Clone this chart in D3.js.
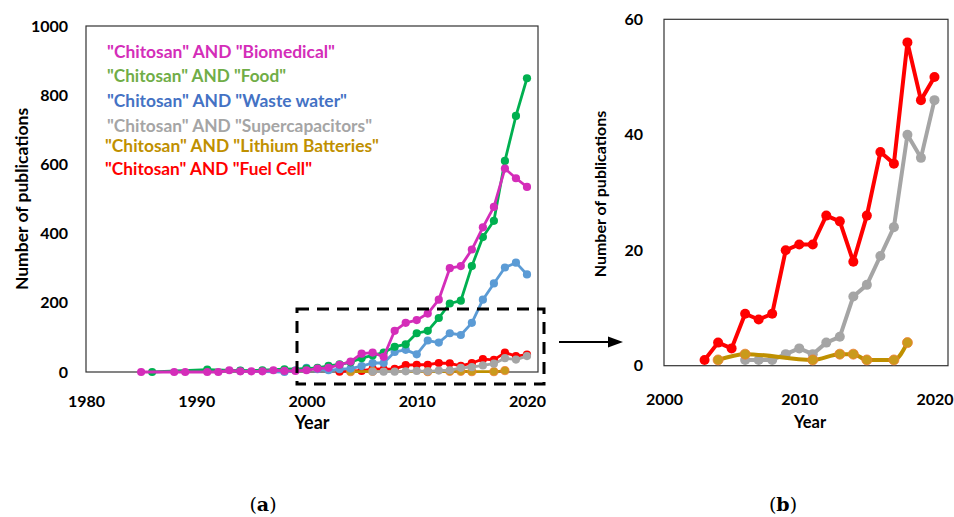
<!DOCTYPE html>
<html>
<head>
<meta charset="utf-8">
<script src="https://d3js.org/d3.v7.min.js"></script>
<style>
  body { margin: 0; background: #ffffff; }
  svg { display: block; }
  .tick text { font-family: Lato, "Open Sans", sans-serif; font-weight: bold; fill: #000; }
  .label { font-family: Lato, "Open Sans", sans-serif; font-weight: bold; fill: #000; }
  .legend { font-family: Lato, "Open Sans", sans-serif; font-weight: bold; }
</style>
</head>
<body>
<script>
// chitosan publications per year

// series names (legend order)
var seriesNames = ['"Chitosan" AND "Biomedical"', '"Chitosan" AND "Food"', '"Chitosan" AND "Waste water"',
                   '"Chitosan" AND "Supercapacitors"', '"Chitosan" AND "Lithium Batteries"', '"Chitosan" AND "Fuel Cell"'];

var bioYears = [1985, 1988, 1989, 1991, 1992, 1993, 1994, 1995, 1996, 1997, 1998, 1999,
                2000, 2001, 2002, 2003, 2004, 2005, 2006, 2007, 2008, 2009, 2010,
                2011, 2012, 2013, 2014, 2015, 2016, 2017, 2018, 2019, 2020];
var bioValues = [0, 0, 0, 0, 0, 5, 2, 2, 2, 5, 3, 3,
                 5, 10, 12, 21, 30, 53, 56, 44, 119, 142, 150,
                 169, 209, 300, 306, 354, 418, 477, 588, 560, 535];

var foodYears = [1986, 1991, 1994, 1996, 1998, 2000, 2001, 2002, 2003, 2004, 2005, 2006, 2007,
                 2008, 2009, 2010, 2011, 2012, 2013, 2014, 2015, 2016, 2017, 2018, 2019, 2020];
var foodValues = [0, 7, 4, 5, 8, 10, 12, 18, 22, 28, 40, 48, 56,
                  73, 80, 112, 119, 156, 198, 206, 306, 390, 437, 610, 740, 849];

var waterYears = [1994, 1998, 1999, 2000, 2001, 2002, 2003, 2004, 2005, 2006, 2007, 2008,
                  2009, 2010, 2011, 2012, 2013, 2014, 2015, 2016, 2017, 2018, 2019, 2020];
var waterValues = [3, 0, 5, 12, 8, 5, 8, 10, 17, 26, 26, 58,
                   64, 51, 91, 85, 112, 107, 142, 209, 256, 302, 316, 282];

var superYears = [2006, 2007, 2008, 2009, 2010, 2011, 2012, 2013, 2014, 2015, 2016, 2017, 2018, 2019, 2020];
var superValues = [1, 1, 1, 2, 3, 2, 4, 5, 12, 14, 19, 24, 40, 36, 46];

var lithiumYears = [2004, 2006, 2011, 2013, 2014, 2015, 2017, 2018];
var lithiumValues = [1, 2, 1, 2, 2, 1, 1, 4];

var fuelYears = [2003, 2004, 2005, 2006, 2007, 2008, 2009, 2010, 2011, 2012,
                 2013, 2014, 2015, 2016, 2017, 2018, 2019, 2020];
var fuelValues = [1, 4, 3, 9, 8, 9, 20, 21, 21, 26, 25, 18, 26, 37, 35, 56, 46, 50];

// tick labels
var leftXTicks = [1980, 1990, 2000, 2010, 2020];
var leftYTicks = [0, 200, 400, 600, 800, 1000];
var rightXTicks = [2000, 2010, 2020];
var rightYTicks = [0, 20, 40, 60];

function zip(years, values) {
  return years.map(function(y, i) { return {year: y, value: values[i]}; });
}

// colours: line, marker, legend text
var styles = {
  bio:     {line: "#d42db9", marker: "#d42db9", text: "#d42db9"},
  food:    {line: "#00b050", marker: "#00b050", text: "#70ad47"},
  water:   {line: "#5b9bd5", marker: "#5b9bd5", text: "#4472c4"},
  superc:  {line: "#a5a5a5", marker: "#a5a5a5", text: "#a5a5a5"},
  lithium: {line: "#bf9000", marker: "#c99a1c", text: "#bf9000", stroke: "#ed7d31"},
  fuel:    {line: "#ff0000", marker: "#ff0000", text: "#ff0000"}
};

var svg = d3.select("body")
  .append("svg")
  .attr("width", 954)
  .attr("height", 517);

// draw one series into a chart
function drawSeries(g, xscale, yscale, data, st, lw, r, curve) {
  var line = d3.line()
    .x(function(d) { return xscale(d.year); })
    .y(function(d) { return yscale(d.value); })
    .curve(curve || d3.curveLinear);

  g.append("path")
    .datum(data)
    .attr("d", line)
    .attr("fill", "none")
    .attr("stroke", st.line)
    .attr("stroke-width", lw)
    .attr("stroke-linejoin", "round");

  g.selectAll(null)
    .data(data)
    .enter()
    .append("circle")
    .attr("cx", function(d) { return xscale(d.year); })
    .attr("cy", function(d) { return yscale(d.value); })
    .attr("r", r)
    .attr("fill", st.marker)
    .attr("stroke", st.stroke || "none")
    .attr("stroke-width", st.stroke ? 0.8 : 0);
}

function drawAxes(g, xscale, yscale, xticks, yticks, xpad, ypad, fs) {
  var xAxis = d3.axisBottom(xscale).tickValues(xticks).tickSize(0).tickPadding(xpad).tickFormat(d3.format("d"));
  var yAxis = d3.axisLeft(yscale).tickValues(yticks).tickSize(0).tickPadding(ypad).tickFormat(d3.format("d"));

  var xg = g.append("g")
    .attr("transform", "translate(0," + yscale.range()[0] + ")")
    .call(xAxis);
  var yg = g.append("g")
    .attr("transform", "translate(" + xscale.range()[0] + ",0)")
    .call(yAxis);

  xg.select(".domain").remove();
  yg.select(".domain").remove();
  g.selectAll(".tick text").style("font-size", fs + "px");

  // plot area border
  g.append("rect")
    .attr("x", xscale.range()[0])
    .attr("y", yscale.range()[1])
    .attr("width", xscale.range()[1] - xscale.range()[0])
    .attr("height", yscale.range()[0] - yscale.range()[1])
    .attr("fill", "none")
    .attr("stroke", "#333")
    .attr("stroke-width", 1.2);
}

// ---------- left chart (a) ----------
var xLeft = d3.scaleLinear().domain([1980, 2021]).range([86, 538]);
var yLeft = d3.scaleLinear().domain([0, 1000]).range([372, 26]);

var left = svg.append("g");
drawAxes(left, xLeft, yLeft, leftXTicks, leftYTicks, 24, 18, 16);

var lines = left.append("g");
drawSeries(lines, xLeft, yLeft, zip(fuelYears, fuelValues), styles.fuel, 2.8, 4.1);
drawSeries(lines, xLeft, yLeft, zip(lithiumYears, lithiumValues), styles.lithium, 2.8, 4.1, d3.curveMonotoneX);
drawSeries(lines, xLeft, yLeft, zip(superYears, superValues), styles.superc, 2.8, 4.1);
drawSeries(lines, xLeft, yLeft, zip(waterYears, waterValues), styles.water, 2.8, 4.1);
drawSeries(lines, xLeft, yLeft, zip(foodYears, foodValues), styles.food, 2.8, 4.1);
drawSeries(lines, xLeft, yLeft, zip(bioYears, bioValues), styles.bio, 2.8, 4.1);

// legend
var legendKeys = ["bio", "food", "water", "superc", "lithium", "fuel"];
var legendY = [58, 82, 107, 132, 152, 175];
var legendX = [107, 107, 107, 107, 105, 105];
var legendW = [228, 179, 240, 265, 274, 207];
left.selectAll(".legend")
  .data(seriesNames)
  .enter()
  .append("text")
  .attr("class", "legend")
  .attr("x", function(d, i) { return legendX[i]; })
  .attr("y", function(d, i) { return legendY[i]; })
  .attr("textLength", function(d, i) { return legendW[i]; })
  .attr("lengthAdjust", "spacingAndGlyphs")
  .style("font-size", "16.5px")
  .style("fill", function(d, i) { return styles[legendKeys[i]].text; })
  .text(function(d) { return d; });

// axis labels
left.append("text")
  .attr("class", "label")
  .attr("transform", "translate(28,199) rotate(-90)")
  .attr("text-anchor", "middle")
  .style("font-size", "17.5px")
  .text("Number of publications");

left.append("text")
  .attr("class", "label")
  .attr("x", 312)
  .attr("y", 429)
  .attr("text-anchor", "middle")
  .style("font-size", "18px")
  .text("Year");

// zoom box
left.append("rect")
  .attr("x", 297)
  .attr("y", 309)
  .attr("width", 247)
  .attr("height", 75)
  .attr("fill", "none")
  .attr("stroke", "#000")
  .attr("stroke-width", 3)
  .attr("stroke-dasharray", "12,8");

// arrow to the detail chart
svg.append("line")
  .attr("x1", 559).attr("y1", 342)
  .attr("x2", 610).attr("y2", 342)
  .attr("stroke", "#000")
  .attr("stroke-width", 1.8);
svg.append("path")
  .attr("d", "M608,336.5 L623,342 L608,347.5 Z")
  .attr("fill", "#000");

// ---------- right chart (b) ----------
var xRight = d3.scaleLinear().domain([2000, 2021]).range([664, 948]);
var yRight = d3.scaleLinear().domain([0, 60]).range([365.7, 19.3]);

var right = svg.append("g");
drawAxes(right, xRight, yRight, rightXTicks, rightYTicks, 28, 21, 16);

var rlines = right.append("g");
drawSeries(rlines, xRight, yRight, zip(fuelYears, fuelValues), styles.fuel, 4, 5);
drawSeries(rlines, xRight, yRight, zip(superYears, superValues), styles.superc, 4, 5);
drawSeries(rlines, xRight, yRight, zip(lithiumYears, lithiumValues), styles.lithium, 4, 5, d3.curveMonotoneX);

right.append("text")
  .attr("class", "label")
  .attr("transform", "translate(606,194) rotate(-90)")
  .attr("text-anchor", "middle")
  .style("font-size", "16px")
  .text("Number of publications");

right.append("text")
  .attr("class", "label")
  .attr("x", 810)
  .attr("y", 428)
  .attr("text-anchor", "middle")
  .style("font-size", "16.5px")
  .text("Year");

// panel letters
var panels = [{x: 263, t: "a"}, {x: 783, t: "b"}];
panels.forEach(function(p) {
  var t = svg.append("text")
    .attr("x", p.x)
    .attr("y", 511)
    .attr("text-anchor", "middle")
    .style("font-family", "'DejaVu Serif', 'Liberation Serif', serif")
    .style("font-size", "19px");
  t.append("tspan").text("(");
  t.append("tspan").style("font-weight", "bold").text(p.t);
  t.append("tspan").text(")");
});
</script>
</body>
</html>
